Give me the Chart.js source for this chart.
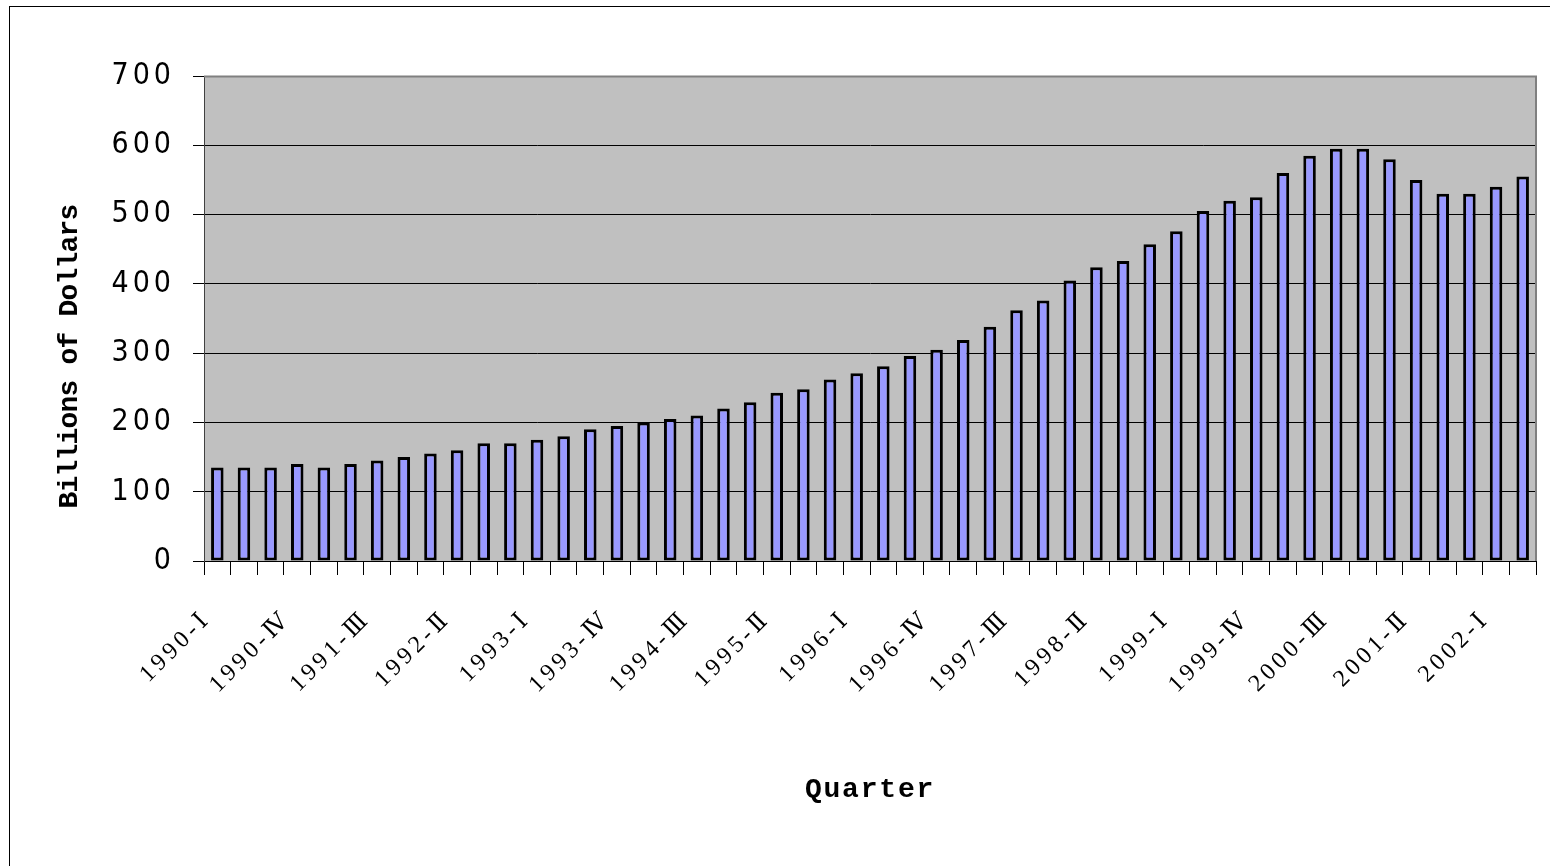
<!DOCTYPE html>
<html>
<head>
<meta charset="utf-8">
<title>Quarterly totals, 1990–2002</title>
<script src="https://cdn.jsdelivr.net/npm/chart.js@4/dist/chart.umd.min.js"></script>
<style>
  html, body { margin: 0; padding: 0; background: #ffffff; }
  canvas { display: block; }
</style>
</head>
<body>
<canvas id="chart" width="1550" height="866"></canvas>
<script>
// Quarter labels, 1990-Ⅰ through 2002-Ⅱ
const quarters = [
  '1990-Ⅰ','1990-Ⅱ','1990-Ⅲ','1990-Ⅳ',
  '1991-Ⅰ','1991-Ⅱ','1991-Ⅲ','1991-Ⅳ',
  '1992-Ⅰ','1992-Ⅱ','1992-Ⅲ','1992-Ⅳ',
  '1993-Ⅰ','1993-Ⅱ','1993-Ⅲ','1993-Ⅳ',
  '1994-Ⅰ','1994-Ⅱ','1994-Ⅲ','1994-Ⅳ',
  '1995-Ⅰ','1995-Ⅱ','1995-Ⅲ','1995-Ⅳ',
  '1996-Ⅰ','1996-Ⅱ','1996-Ⅲ','1996-Ⅳ',
  '1997-Ⅰ','1997-Ⅱ','1997-Ⅲ','1997-Ⅳ',
  '1998-Ⅰ','1998-Ⅱ','1998-Ⅲ','1998-Ⅳ',
  '1999-Ⅰ','1999-Ⅱ','1999-Ⅲ','1999-Ⅳ',
  '2000-Ⅰ','2000-Ⅱ','2000-Ⅲ','2000-Ⅳ',
  '2001-Ⅰ','2001-Ⅱ','2001-Ⅲ','2001-Ⅳ',
  '2002-Ⅰ','2002-Ⅱ'
];

// Billions of dollars per quarter
const billions = [
  135, 135, 135, 140,
  135, 140, 145, 150,
  155, 160, 170, 170,
  175, 180, 190, 195,
  200, 205, 210, 220,
  229, 243, 248, 262,
  271, 281, 296, 305,
  319, 338, 362, 376,
  405, 424, 433, 457,
  476, 505, 520, 525,
  560, 585, 595, 595,
  580, 550, 530, 530,
  540, 555
];

// Value axis ticks
const valueTicks = [0, 100, 200, 300, 400, 500, 600, 700];

// Every third quarter carries a label
const labelStep = 3;

const yTitle = 'Billions of Dollars';
const xTitle = 'Quarter';

// Letter spacing and title nudges per axis (canvas letterSpacing)
const axisText = {
  x: { labels: '4px', title: '1.8px', dx: 0, dy: 0 },
  y: { labels: '4px', title: '-0.8px', dx: 0, dy: 38 }
};

const axisTextPlugin = {
  id: 'axisText',
  beforeDraw(chart) {
    for (const id of Object.keys(axisText)) {
      const scale = chart.scales[id];
      if (!scale || scale.$spaced) continue;
      scale.$spaced = true;
      const cfg = axisText[id];
      const wrap = (name, spacing, dx, dy) => {
        const orig = scale[name].bind(scale);
        scale[name] = function (...args) {
          const ctx = this.ctx;
          ctx.save();
          ctx.letterSpacing = spacing;
          ctx.translate(dx, dy);
          orig(...args);
          ctx.restore();
        };
      };
      wrap('drawLabels', cfg.labels, 0, 0);
      wrap('drawTitle', cfg.title, cfg.dx, cfg.dy);
    }
  }
};

// White page with a thin frame, grey plot area with a shaded top/right edge
const framePlugin = {
  id: 'frame',
  beforeDraw(chart) {
    const { ctx, chartArea: a } = chart;
    ctx.save();
    ctx.fillStyle = '#ffffff';
    ctx.fillRect(0, 0, chart.width, chart.height);
    ctx.strokeStyle = '#000000';
    ctx.lineWidth = 1;
    ctx.strokeRect(9.5, 6.5, chart.width + 40, chart.height + 40);
    ctx.fillStyle = '#c0c0c0';
    ctx.fillRect(a.left, a.top, a.right - a.left, a.bottom - a.top);
    ctx.restore();
  },
  afterDatasetsDraw(chart) {
    const { ctx, chartArea: a } = chart;
    ctx.save();
    ctx.strokeStyle = '#808080';
    ctx.lineWidth = 2;
    ctx.beginPath();
    ctx.moveTo(a.left, a.top + 0.5);
    ctx.lineTo(a.right, a.top + 0.5);
    ctx.lineTo(a.right, a.bottom);
    ctx.stroke();
    ctx.restore();
  }
};

new Chart(document.getElementById('chart'), {
  type: 'bar',
  data: {
    labels: quarters,
    datasets: [{
      data: billions,
      backgroundColor: '#9999ff',
      borderColor: '#000000',
      borderWidth: 3,
      borderSkipped: false,
      barPercentage: 0.47,
      categoryPercentage: 1.0
    }]
  },
  options: {
    responsive: false,
    animation: false,
    devicePixelRatio: 1,
    layout: { padding: { top: 76, right: 14, left: 0, bottom: 0 } },
    plugins: {
      legend: { display: false },
      tooltip: { enabled: false },
      title: { display: false }
    },
    scales: {
      x: {
        offset: true,
        grid: {
          display: true,
          offset: true,
          drawOnChartArea: false,
          drawTicks: true,
          tickLength: 14,
          color: '#000000',
          lineWidth: 1
        },
        border: { display: true, color: '#000000', width: 1 },
        ticks: {
          autoSkip: false,
          maxRotation: 45,
          minRotation: 45,
          padding: 30,
          labelOffset: -10,
          color: '#000000',
          font: { family: "'Liberation Serif', 'DejaVu Serif', serif", size: 24 },
          callback: (value, index) => index % labelStep === 0 ? quarters[index] : ''
        },
        title: {
          display: true,
          text: xTitle,
          color: '#000000',
          font: { family: "'Liberation Mono', 'DejaVu Sans Mono', monospace", size: 28, weight: 'bold' },
          padding: { top: 0, bottom: 59 }
        },
        afterFit(scale) {
          scale.height = 305;
          scale.paddingLeft = 0;
          scale.paddingRight = 0;
        }
      },
      y: {
        min: 0,
        max: 700,
        afterBuildTicks(scale) { scale.ticks = valueTicks.map(v => ({ value: v })); },
        grid: {
          display: true,
          drawOnChartArea: true,
          drawTicks: true,
          tickLength: 11,
          color: '#000000',
          lineWidth: 1
        },
        border: { display: true, color: '#404040', width: 1 },
        ticks: {
          padding: 18,
          color: '#000000',
          font: { family: "'Liberation Sans Narrow', 'DejaVu Sans Condensed', 'Liberation Sans', sans-serif", size: 30 }
        },
        title: {
          display: true,
          text: yTitle,
          color: '#000000',
          font: { family: "'Liberation Mono', 'DejaVu Sans Mono', monospace", size: 28, weight: 'bold' },
          padding: { top: 53, bottom: 0 }
        },
        afterFit(scale) {
          scale.width = 204;
          scale.paddingTop = 0;
          scale.paddingBottom = 0;
        }
      }
    }
  },
  plugins: [framePlugin, axisTextPlugin]
});
</script>
</body>
</html>
